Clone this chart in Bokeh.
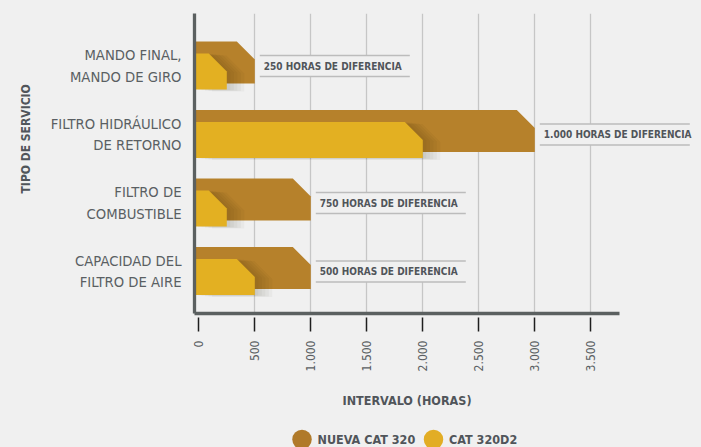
import math
from bokeh.plotting import figure
from bokeh.layouts import column
from bokeh.models import Range1d, FixedTicker, Label, Title
from bokeh.core.properties import value
from bokeh.embed import file_html
from bokeh.resources import INLINE

# ---------------- data ----------------
categories = [
    "MANDO FINAL,\nMANDO DE GIRO",
    "FILTRO HIDRÁULICO\nDE RETORNO",
    "FILTRO DE\nCOMBUSTIBLE",
    "CAPACIDAD DEL\nFILTRO DE AIRE",
]
nueva_cat_320 = [500, 3000, 1000, 1000]
cat_320d2 = [250, 2000, 250, 500]
x_ticks = [0, 500, 1000, 1500, 2000, 2500, 3000, 3500]
x_tick_labels = ["0", "500", "1.000", "1.500", "2.000", "2.500", "3.000", "3.500"]
series_names = ["NUEVA CAT 320", "CAT 320D2"]
series_colors = ["#b07a2a", "#e2ad25"]
y_title = "TIPO DE SERVICIO"
x_title = "INTERVALO (HORAS)"

# ---------------- style ----------------
BG = "#f0f0f0"
BROWN = "#b6812b"
YELLOW = "#e3b022"
AXIS = "#5b6060"
GRID = "#c6c6c6"
TXT = "#5a5f63"
TXT_B = "#50555a"
FONT = "'DejaVu Sans Condensed', Roboto, sans-serif"

# layout (page pixels)
W, H = 701, 380       # main chart
LH = 67               # strip below: axis title + legend
PX_H = 0.112          # pixels per hour
X0 = 198.3            # page x of 0 hours
FL, FR, FT, FB = 194, 692, 13, 313
UNIT = 68.5           # pixels between category rows
YC0 = 270.5           # page y of lowest row centre


def xd(px):
    return (px - X0) / PX_H


def yd(py):
    return (YC0 - py) / UNIT


def hx(px):
    return px / PX_H


def vy(px):
    return px / UNIT


p = figure(width=W, height=H,
           x_range=Range1d(xd(FL), xd(FR)), y_range=Range1d(yd(FB), yd(FT)),
           output_backend="svg", toolbar_location=None,
           min_border_left=FL, min_border_right=W - FR,
           min_border_top=FT, min_border_bottom=H - FB)
p.background_fill_color = BG
p.border_fill_color = BG
p.outline_line_color = None

# grid
p.ygrid.visible = False
p.xgrid.ticker = FixedTicker(ticks=[t for t in x_ticks if t > 0])
p.xgrid.grid_line_color = GRID
p.xgrid.grid_line_width = 1.3

n = len(categories)

# x axis
xa = p.xaxis[0]
xa.ticker = FixedTicker(ticks=x_ticks)
xa.major_label_overrides = {t: l for t, l in zip(x_ticks, x_tick_labels)}
xa.bounds = (xd(FL), xd(618.5))
xa.axis_line_color = AXIS
xa.axis_line_width = 3.3
xa.major_tick_in = -4
xa.major_tick_out = 18
xa.major_tick_line_color = "#1e1e1e"
xa.major_tick_line_width = 1.5
xa.minor_tick_line_color = None
xa.major_label_orientation = math.pi / 2
xa.major_label_standoff = 9
xa.major_label_text_font = FONT
xa.major_label_text_font_size = "12px"
xa.major_label_text_color = TXT

# y axis: category labels
ya = p.yaxis[0]
ya.ticker = FixedTicker(ticks=list(range(n)))
ya.major_label_overrides = {n - 1 - i: c for i, c in enumerate(categories)}
ya.axis_line_color = AXIS
ya.axis_line_width = 3.3
ya.major_tick_line_color = None
ya.major_tick_out = 0
ya.major_tick_in = 0
ya.minor_tick_line_color = None
ya.major_label_standoff = 13
ya.major_label_text_font = FONT
ya.major_label_text_font_size = "14.7px"
ya.major_label_text_color = TXT
ya.major_label_text_line_height = 1.25

p.add_layout(Title(text=y_title, align="left", offset=120, text_font=FONT,
                   text_font_style="bold", text_font_size="12px", text_color=TXT_B,
                   standoff=30), "left")

xs0 = xd(FL)
ch = hx(18)
cv = vy(18)

for i in range(n):
    c = n - 1 - i
    vb = nueva_cat_320[i]
    vyel = cat_320d2[i]
    # brown bar (back)
    b_top, b_bot = c + vy(24), c - vy(18)
    p.patch([xs0, xs0, vb - ch, vb, vb], [b_bot, b_top, b_top, b_top - cv, b_bot],
            fill_color=BROWN, line_color=None)
    # yellow bar (front) with soft shadow
    y_top, y_bot = c + vy(12), c - vy(24)
    yx = [xs0, xs0, vyel - ch, vyel, vyel]
    yy = [y_bot, y_top, y_top, y_top - cv, y_bot]
    for k in range(1, 6):
        p.patch([x + hx(3.5 * k) for x in yx], [y - vy(0.4 * k) for y in yy],
                fill_color="#2a1e08", fill_alpha=0.035, line_color=None)
    p.patch(yx, yy, fill_color=YELLOW, line_color=None)

    # difference annotation
    diff = vb - vyel
    txt = f"{diff:,}".replace(",", ".") + " HORAS DE DIFERENCIA"
    bl = vb + hx(5)
    br = bl + hx(150)
    bc = c - vy(0.5)
    p.quad(left=bl, right=br, bottom=bc - vy(10.5), top=bc + vy(10.5),
           fill_color=BG, line_color=None)
    p.segment(x0=[bl, bl], x1=[br, br], y0=[bc + vy(10.5), bc - vy(10.5)],
              y1=[bc + vy(10.5), bc - vy(10.5)], line_color="#bcbcbc", line_width=1.3)
    p.add_layout(Label(x=bl + hx(4), y=bc, text=txt, text_align="left",
                       text_baseline="middle", text_font=FONT, text_font_style="bold",
                       text_font_size="10px", text_color=TXT_B))

# ---------------- strip below: x title + legend ----------------
lf = figure(width=W, height=LH, x_range=Range1d(xd(FL), xd(FR)),
            y_range=Range1d(H + LH, H),
            output_backend="svg", toolbar_location=None,
            min_border_left=FL, min_border_right=W - FR, min_border_top=0,
            min_border_bottom=0, x_axis_type=None, y_axis_type=None)
lf.background_fill_color = BG
lf.border_fill_color = BG
lf.outline_line_color = None
lf.grid.visible = False

lf.text(x=[xd(406.5)], y=[400], text=[x_title], text_font=value(FONT),
        text_font_style="bold", text_font_size="12.5px", text_color=TXT_B,
        text_align="center", text_baseline="middle")

leg_y = 439
leg_cx = [301.5, 433]
lf.scatter(x=[xd(cx) for cx in leg_cx], y=[leg_y] * 2, size=19.5, marker="circle",
           fill_color=series_colors, line_color=None)
lf.text(x=[xd(cx + 15.5) for cx in leg_cx], y=[leg_y] * 2, text=series_names,
        text_font=value(FONT), text_font_style="bold", text_font_size="12.5px",
        text_color=TXT_B, text_align="left", text_baseline="middle")

layout = column(p, lf, spacing=0)
open("out.html", "w").write(file_html(layout, INLINE).replace("<body>", '<body style="background-color:#f0f0f0">'))
